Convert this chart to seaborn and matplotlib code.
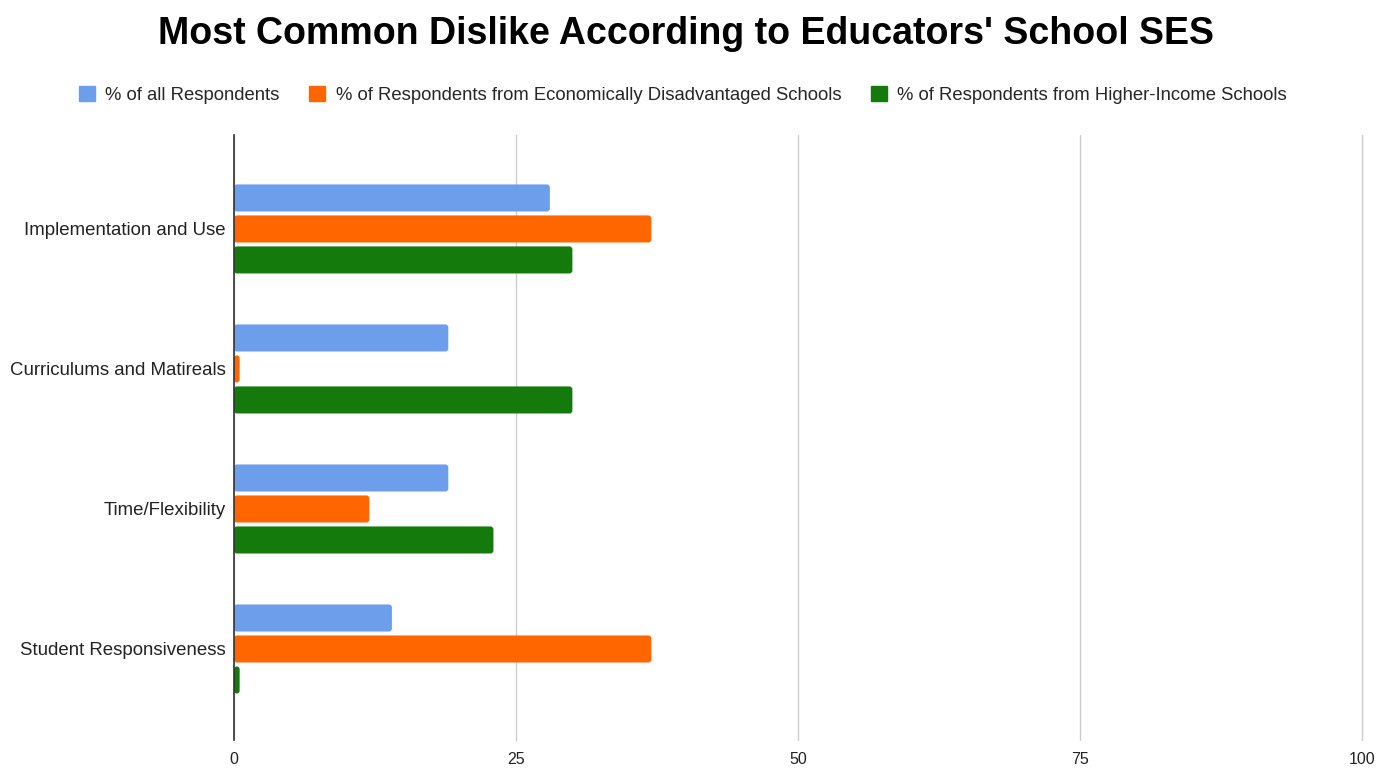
import matplotlib
matplotlib.use("Agg")
import matplotlib.pyplot as plt
import seaborn as sns
import pandas as pd
from matplotlib.patches import Patch, FancyBboxPatch

categories = ["Implementation and Use", "Curriculums and Matireals",
              "Time/Flexibility", "Student Responsiveness"]
series_names = ["% of all Respondents",
                "% of Respondents from Economically Disadvantaged Schools",
                "% of Respondents from Higher-Income Schools"]
all_resp = [28, 19, 19, 14]
disadv = [37, 0.5, 12, 37]
higher = [30, 30, 23, 0.5]
x_ticks = [0, 25, 50, 75, 100]
colors = ["#6d9eeb", "#ff6600", "#137a0b"]
title = "Most Common Dislike According to Educators' School SES"

rows = []
for s, vals in zip(series_names, [all_resp, disadv, higher]):
    for c, v in zip(categories, vals):
        rows.append({"category": c, "series": s, "value": v})
df = pd.DataFrame(rows)

sns.set_style("white")
plt.rcParams['font.family'] = ['Liberation Sans', 'DejaVu Sans']

fig = plt.figure(figsize=(13.95, 7.72), dpi=100)
ax = fig.add_axes([234/1395, 32/772, (1362-234)/1395, (740-135)/772])

sns.barplot(data=df, y="category", x="value", hue="series", order=categories,
            hue_order=series_names, palette=colors, orient="h", width=0.664,
            gap=0.127, saturation=1, legend=False, ax=ax, errorbar=None)

ax.set_xlim(0, 100)
ax.set_ylim(3.65, -0.671)

# rounded bar corners, using the geometry seaborn produced
rx = 3 * 100 / (1362 - 234)          # ~3 px in x data units
ry = 3 * 4.321 / (740 - 135)          # ~3 px in y data units
for p in list(ax.patches):
    x, y = p.get_x(), p.get_y()
    w, h = p.get_width(), p.get_height()
    fc = p.get_facecolor()
    p.remove()
    fb = FancyBboxPatch((x, y), w, h,
                        boxstyle=f"round,pad=0,rounding_size={min(rx, w/2):.4f}",
                        mutation_aspect=ry / rx, facecolor=fc, edgecolor="none",
                        zorder=2)
    ax.add_patch(fb)

ax.set_xticks(x_ticks)
ax.set_xticklabels([str(t) for t in x_ticks], fontsize=11.5, color="#222222")
ax.tick_params(axis="y", labelsize=13.4, labelcolor="#222222", length=0, pad=6)
ax.tick_params(axis="x", length=0, pad=9)
ax.set_xlabel("")
ax.set_ylabel("")
for sp in ["top", "right", "bottom"]:
    ax.spines[sp].set_visible(False)
ax.spines["left"].set_color("#333333")
ax.spines["left"].set_linewidth(1.2)
ax.spines["left"].set_zorder(3)
ax.set_axisbelow(True)
ax.xaxis.grid(True, color="#cccccc", linewidth=1)
ax.yaxis.grid(False)
for gl in ax.get_xgridlines():
    gl.set_clip_on(False)

fig.text(686/1395, 1 - 34/772, title, ha="center", va="center",
         fontsize=27, fontweight="bold", color="#000000")

handles = [Patch(facecolor=c, edgecolor=c) for c in colors]
fig.legend(handles, series_names, loc="center", bbox_to_anchor=(683/1395, 1 - 95/772),
           ncol=3, frameon=False, fontsize=13.3, handlelength=0.86, handleheight=0.86,
           handletextpad=0.55, columnspacing=1.62)

fig.savefig("out.png", dpi=100)
